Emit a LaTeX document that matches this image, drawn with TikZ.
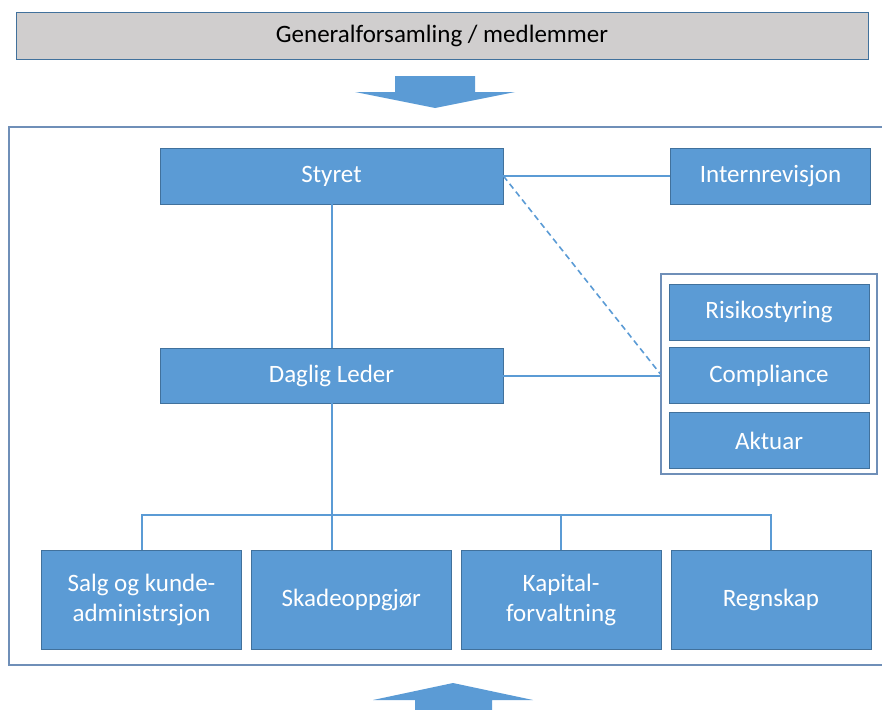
\documentclass[tikz,border=0pt]{standalone}
\usepackage{fontspec}
\setmainfont{Carlito}
\usetikzlibrary{positioning, arrows.meta}
\definecolor{OrgBlue}{HTML}{5B9BD5}
\definecolor{OrgEdge}{HTML}{41719C}
\definecolor{OrgGray}{HTML}{D0CECE}
\definecolor{FrameBlue}{HTML}{6F8FB8}

\begin{document}
\begin{tikzpicture}[x=1pt, y=-1pt,
    unit/.style={draw=OrgEdge, fill=OrgBlue, text=white, line width=0.8pt, align=center,
                 inner sep=0pt, minimum width=200pt, minimum height=56pt,
                 font=\fontsize{25}{30}\selectfont},
    link/.style={OrgBlue, line width=2pt},
    node distance=9pt]
    \useasboundingbox (0,0) rectangle (882,709);

    % General assembly on top
    \node[draw=OrgEdge, fill=OrgGray, line width=0.8pt, minimum width=852pt, minimum height=47pt,
          inner sep=0pt, font=\fontsize{25}{30}\selectfont] (gf) at (442,35.5) {Generalforsamling / medlemmer};

    % Arrows in and out of the company
    \fill[OrgBlue] (395,76) -- (475,76) -- (475,92) -- (515,92) -- (435,108) -- (355,92) -- (395,92) -- cycle;
    \fill[OrgBlue] (415,715) -- (415,700) -- (373,700) -- (453,683) -- (533,700) -- (492,700) -- (492,715) -- cycle;

    % Company frame (runs off the right edge)
    \draw[FrameBlue, line width=1.2pt] (9,127) rectangle (900,665);

    % Board and management
    \node[unit, minimum width=343pt] (styret) at (331.5,176) {Styret};
    \node[unit] (intern) at (770.5,176) {Internrevisjon};
    \node[unit, minimum width=343pt, minimum height=55pt] (daglig) at (331.5,375.5) {Daglig Leder};

    % Control functions
    \node[draw=FrameBlue, fill=white, line width=1.2pt, minimum width=216pt, minimum height=200pt] (grp) at (769,374) {};
    \node[unit] (risiko) at (769,312) {Risikostyring};
    \node[unit, below=7pt of risiko] (compl) {Compliance};
    \node[unit, below=8pt of compl] (aktuar) {Aktuar};

    % Departments
    \node[unit, minimum height=99pt] (salg) at (141.5,599.5) {Salg og kunde-\\administrsjon};
    \node[unit, minimum height=99pt, right=of salg] (skade) {Skadeoppgjør};
    \node[unit, minimum height=99pt, right=of skade] (kapital) {Kapital-\\forvaltning};
    \node[unit, minimum height=99pt, right=of kapital] (regn) {Regnskap};

    % Lines between the units
    \coordinate (bus) at (332,515);
    \draw[link] (styret) -- (intern);
    \draw[link] (styret) -- (daglig);
    \draw[link, dashed, dash pattern=on 6pt off 4pt, line width=1.6pt] (styret.east) -- (grp.west);
    \draw[link] (daglig.east) -- (daglig.east -| grp.west);
    \draw[link] (daglig.south) -- (daglig.south |- skade.north);
    \draw[link] (salg.north) |- (bus) -| (regn.north);
    \draw[link] (kapital.north) -- (kapital.north |- bus);
\end{tikzpicture}
\end{document}
